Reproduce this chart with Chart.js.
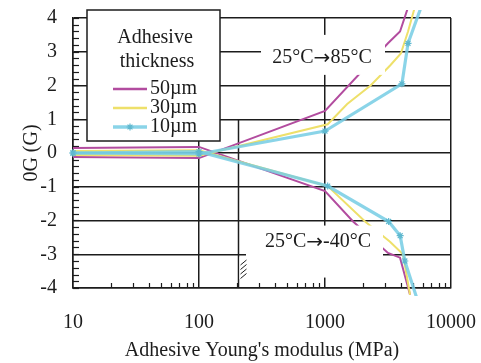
<!DOCTYPE html>
<html>
<head>
<meta charset="utf-8">
<script src="https://cdn.jsdelivr.net/npm/chart.js@4.4.1/dist/chart.umd.min.js"></script>
<style>
  html, body { margin: 0; padding: 0; background: #fff; }
  #wrap { width: 481px; height: 363px; position: relative; }
</style>
</head>
<body>
<div id="wrap"><canvas id="chart"></canvas></div>
<script>
// axis ticks
const xTicks = [10, 100, 1000, 10000];
const yMin = -4, yMax = 4;

// legend
const thickness = ['50µm', '30µm', '10µm'];
const colors = ['#b24c9f', '#eee06a', 'rgba(118,204,228,0.85)'];

// 25°C -> 85°C branch (Young's modulus MPa, δG)
const e50Hot = [10, 100, 1000, 3160, 3940, 4500];
const g50Hot = [-0.12, -0.15, 1.25, 3.25, 3.6, 4.25];
const e30Hot = [10, 100, 1050, 1500, 2300, 3300, 4000, 4560, 5100];
const g30Hot = [-0.06, -0.08, 0.85, 1.45, 2.0, 2.6, 2.95, 3.6, 4.25];
const e10Hot = [10, 100, 1000, 4080, 4560, 5700];
const g10Hot = [0, -0.03, 0.65, 2.05, 3.25, 4.25];

// 25°C -> -40°C branch
const e50Cold = [10, 100, 1000, 1670, 3160, 3940, 4730];
const g50Cold = [0.15, 0.18, -1.13, -2.03, -2.96, -3.1, -4.2];
const e30Cold = [10, 100, 1050, 2080, 3280, 4160, 4730];
const g30Cold = [0.06, 0.08, -0.98, -2.03, -2.63, -3.0, -4.2];
const e10Cold = [10, 100, 1050, 3200, 3950, 4300, 5300];
const g10Cold = [0, 0.04, -0.98, -2.03, -2.45, -3.2, -4.25];

const SERIF = '"Liberation Serif", "DejaVu Serif", serif';
const INK = '#1c1c1c';

const pts = (xs, ys) => xs.map((x, i) => ({ x: x, y: ys[i] }));

function series(xs, ys, idx) {
  const cyan = idx === 2;
  return {
    data: pts(xs, ys),
    showLine: true,
    borderColor: colors[idx],
    backgroundColor: colors[idx],
    borderWidth: cyan ? 3.2 : 2,
    pointRadius: cyan ? 3.5 : 0,
    pointStyle: 'star',
    pointBorderColor: '#5fb8cf',
    pointBorderWidth: 1.2,
    clip: 8,
    order: 2 - idx
  };
}

// "25°C → 85°C" with a longer arrow glyph
function condLabel(ctx, left, right, cx, cy) {
  const serif = '20px ' + SERIF;
  const arrowFont = '20px "DejaVu Sans", sans-serif';
  ctx.font = serif;
  const wl = ctx.measureText(left).width, wr = ctx.measureText(right).width;
  ctx.font = arrowFont;
  const wa = ctx.measureText('→').width;
  let px = cx - (wl + wa + wr) / 2;
  ctx.textAlign = 'left';
  ctx.font = serif; ctx.fillText(left, px, cy); px += wl;
  ctx.font = arrowFont; ctx.fillText('→', px, cy + 1); px += wa;
  ctx.font = serif; ctx.fillText(right, px, cy);
}

function star(ctx, cx, cy, r) {
  ctx.beginPath();
  ctx.moveTo(cx - r, cy); ctx.lineTo(cx + r, cy);
  ctx.moveTo(cx, cy - r); ctx.lineTo(cx, cy + r);
  ctx.moveTo(cx - r * 0.7, cy - r * 0.7); ctx.lineTo(cx + r * 0.7, cy + r * 0.7);
  ctx.moveTo(cx - r * 0.7, cy + r * 0.7); ctx.lineTo(cx + r * 0.7, cy - r * 0.7);
  ctx.stroke();
}

const decor = {
  id: 'decor',
  beforeDatasetsDraw(chart) {
    const { ctx, chartArea: a, scales: { x, y } } = chart;
    ctx.save();
    ctx.strokeStyle = INK;
    ctx.lineWidth = 1.2;
    // minor ticks on the left axis
    for (let v = yMin; v <= yMax + 0.001; v += 0.2) {
      const py = Math.round(y.getPixelForValue(v)) + 0.5;
      ctx.beginPath(); ctx.moveTo(a.left, py); ctx.lineTo(a.left + 6, py); ctx.stroke();
    }
    // minor ticks on the bottom axis
    for (let d = 10; d < 10000; d *= 10) {
      for (let k = 2; k <= 9; k++) {
        const px = Math.round(x.getPixelForValue(d * k)) + 0.5;
        ctx.beginPath(); ctx.moveTo(px, a.bottom); ctx.lineTo(px, a.bottom - 5); ctx.stroke();
      }
    }
    // reference line near 200 MPa
    ctx.lineWidth = 1.5;
    const rx = Math.round(x.getPixelForValue(205)) + 0.5;
    ctx.beginPath(); ctx.moveTo(rx, y.getPixelForValue(1)); ctx.lineTo(rx, a.bottom); ctx.stroke();
    ctx.restore();
  },
  afterDatasetsDraw(chart) {
    const { ctx, chartArea: a, scales: { x, y } } = chart;
    ctx.save();
    ctx.textBaseline = 'middle';

    // condition labels
    const cx = x.getPixelForValue(1000);
    ctx.fillStyle = '#fff';
    ctx.fillRect(cx - 64, y.getPixelForValue(3.5), 124, 40);
    ctx.fillRect(cx - 79, y.getPixelForValue(-2.15), 137, 52);
    ctx.fillStyle = INK;
    condLabel(ctx, '25°C', '85°C', cx - 3, y.getPixelForValue(2.83));
    condLabel(ctx, '25°C', '-40°C', cx - 7, y.getPixelForValue(-2.63));

    // break mark on the reference line
    const rx = Math.round(x.getPixelForValue(205)) + 0.5;
    ctx.fillStyle = '#fff';
    ctx.fillRect(rx + 1, a.bottom - 31, 9, 22);
    ctx.strokeStyle = INK;
    ctx.lineWidth = 1;
    for (let i = 0; i < 4; i++) {
      const yy = a.bottom - 28 + i * 4.5;
      ctx.beginPath(); ctx.moveTo(rx + 2, yy + 5); ctx.lineTo(rx + 8, yy); ctx.stroke();
    }

    // legend box
    const lx = a.left + 14, ly = a.top - 8, lw = 133, lh = 131;
    ctx.fillStyle = '#fff';
    ctx.fillRect(lx, ly, lw, lh);
    ctx.strokeStyle = INK;
    ctx.lineWidth = 1.5;
    ctx.strokeRect(lx, ly, lw, lh);
    ctx.fillStyle = INK;
    ctx.font = '20px ' + SERIF;
    ctx.textAlign = 'center';
    ctx.fillText('Adhesive', lx + 68, ly + 28);
    ctx.fillText('thickness', lx + 70, ly + 52);
    ctx.textAlign = 'left';
    thickness.forEach((t, i) => {
      const yy = ly + 79 + i * 19;
      ctx.strokeStyle = colors[i];
      ctx.lineWidth = i === 2 ? 3.5 : 2.5;
      ctx.beginPath(); ctx.moveTo(lx + 26, yy); ctx.lineTo(lx + 60, yy); ctx.stroke();
      if (i === 2) {
        ctx.strokeStyle = '#5fb8cf';
        ctx.lineWidth = 1.2;
        star(ctx, lx + 43, yy, 3.5);
      }
      ctx.fillStyle = INK;
      ctx.fillText(t, lx + 63, yy);
    });
    ctx.restore();
  }
};

new Chart(document.getElementById('chart').getContext('2d'), {
  type: 'scatter',
  data: {
    datasets: [
      series(e50Hot, g50Hot, 0),
      series(e30Hot, g30Hot, 1),
      series(e10Hot, g10Hot, 2),
      series(e50Cold, g50Cold, 0),
      series(e30Cold, g30Cold, 1),
      series(e10Cold, g10Cold, 2)
    ]
  },
  options: {
    responsive: true,
    maintainAspectRatio: false,
    animation: false,
    layout: { padding: { top: 18, right: 30, left: 0, bottom: 0 } },
    plugins: { legend: { display: false }, tooltip: { enabled: false } },
    scales: {
      x: {
        type: 'logarithmic',
        min: 10,
        max: 10000,
        afterBuildTicks: (s) => { s.ticks = xTicks.map(v => ({ value: v })); },
        afterFit: (s) => { s.height = 75; s.paddingLeft = 0; s.paddingRight = 0; },
        ticks: {
          callback: (v) => String(v),
          font: { family: SERIF, size: 20 },
          color: INK,
          padding: 23,
          maxRotation: 0,
          autoSkip: false
        },
        grid: { color: INK, lineWidth: 1.5, drawTicks: false },
        border: { display: true, color: INK, width: 1.5 },
        title: {
          display: true,
          text: "Adhesive Young's modulus (MPa)",
          font: { family: SERIF, size: 20 },
          color: INK,
          padding: { top: 0, bottom: 0 }
        }
      },
      y: {
        min: yMin,
        max: yMax,
        afterFit: (s) => { s.width = 73; s.paddingTop = 0; s.paddingBottom = 0; },
        ticks: {
          stepSize: 1,
          font: { family: SERIF, size: 20 },
          color: INK,
          padding: 16
        },
        grid: { color: INK, lineWidth: 1.5, drawTicks: false },
        border: { display: true, color: INK, width: 1.5 },
        title: {
          display: true,
          text: '0G (G)',
          font: { family: SERIF, size: 20 },
          color: INK,
          padding: { top: 20, bottom: 0 }
        }
      }
    }
  },
  plugins: [decor]
});
</script>
</body>
</html>
